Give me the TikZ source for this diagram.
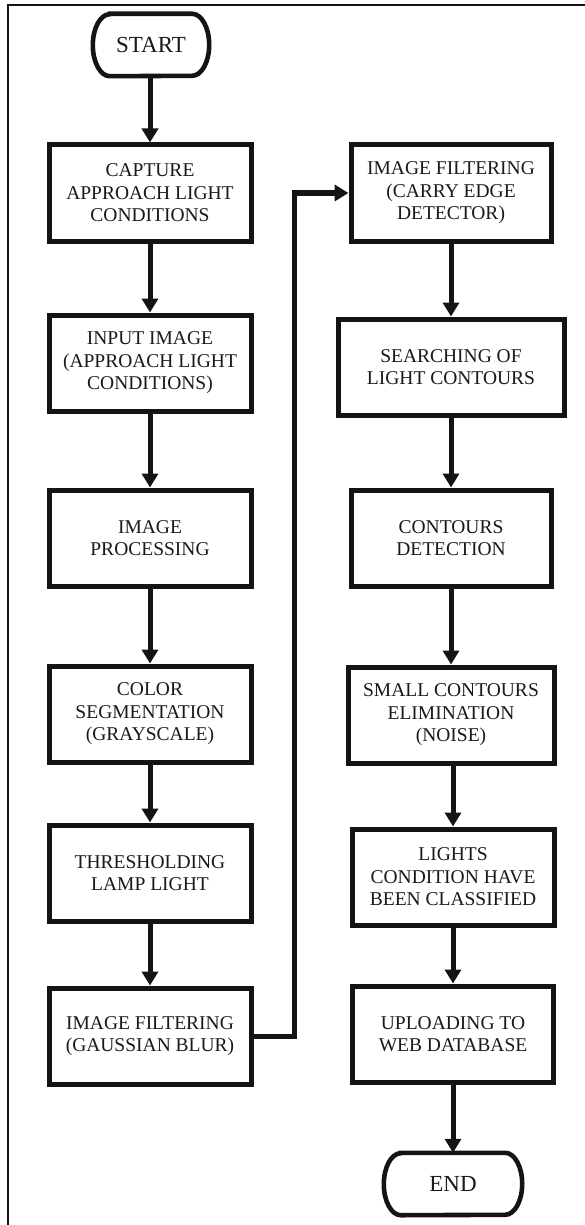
\documentclass[tikz,border=0pt]{standalone}
\usepackage{fontspec}
\setmainfont{Liberation Serif}
\usetikzlibrary{arrows.meta}
\begin{document}
\begin{tikzpicture}[x=1pt,y=-1pt,
  box/.style={draw=black!92, line width=5pt, minimum width=#1, minimum height=96pt,
    align=center, inner sep=0pt, font=\fontsize{19.5}{22.5}\selectfont, text=black!90},
  term/.style={minimum width=#1, minimum height=62pt, inner sep=0pt,
    font=\fontsize{23}{26}\selectfont, text=black!90},
  termline/.style={draw=black!92, line width=4.6pt},
  flow/.style={draw=black!92, line width=5pt, -{Triangle[length=14pt,width=16pt]}},
  frame/.style={draw=black!92, line width=1.8pt}]
\clip (0,0) rectangle (585,1225);
\fill[white] (0,0) rectangle (585,1225);
\draw[frame] (8,1240) -- (8,5) -- (600,5);

% left column
\node[term=116pt] (start) at (151,45) {START};
\node[box=202pt] (capture) at (150,193) {CAPTURE\\APPROACH LIGHT\\CONDITIONS};
\node[box=202pt] (input) at (150,363) {INPUT IMAGE\\(APPROACH LIGHT\\CONDITIONS)};
\node[box=202pt] (proc) at (150,538) {IMAGE\\PROCESSING};
\node[box=202pt] (color) at (150,714) {COLOR\\SEGMENTATION\\(GRAYSCALE)};
\node[box=202pt] (thresh) at (150,873) {THRESHOLDING\\LAMP LIGHT};
\node[box=202pt] (gauss) at (150,1036) {IMAGE FILTERING\\(GAUSSIAN BLUR)};

% right column
\node[box=200pt] (carry) at (451,193) {IMAGE FILTERING\\(CARRY EDGE\\DETECTOR)};
\node[box=226pt] (search) at (451,367) {SEARCHING OF\\LIGHT CONTOURS};
\node[box=200pt] (detect) at (451,538) {CONTOURS\\DETECTION};
\node[box=206pt] (small) at (451,715) {SMALL CONTOURS\\ELIMINATION\\(NOISE)};
\node[box=202pt] (lights) at (453,877) {LIGHTS\\CONDITION HAVE\\BEEN CLASSIFIED};
\node[box=201pt] (upload) at (453,1034) {UPLOADING TO\\WEB DATABASE};
\node[term=138pt] (end) at (453,1184) {END};

% terminator outlines
\foreach \n in {start,end}{
  \draw[termline] ([xshift=17pt]\n.north west) -- ([xshift=-17pt]\n.north east)
    arc[start angle=90,end angle=-90,x radius=17pt,y radius=31pt]
    -- ([xshift=17pt]\n.south west)
    arc[start angle=270,end angle=90,x radius=17pt,y radius=31pt] -- cycle;
}

\coordinate (turn) at (294,600);

\draw[flow] (start.south -| capture.north) -- (capture.north);
\draw[flow] (capture) -- (input);
\draw[flow] (input) -- (proc);
\draw[flow] (proc) -- (color);
\draw[flow] (color) -- (thresh);
\draw[flow] (thresh) -- (gauss);
\draw[flow] (gauss.east) -| (turn) |- (carry.west);
\draw[flow] (carry) -- (search);
\draw[flow] (search) -- (detect);
\draw[flow] (detect) -- (small);
\draw[flow] (small.south -| lights.north) -- (lights.north);
\draw[flow] (lights) -- (upload);
\draw[flow] (upload) -- (end);
\end{tikzpicture}
\end{document}
